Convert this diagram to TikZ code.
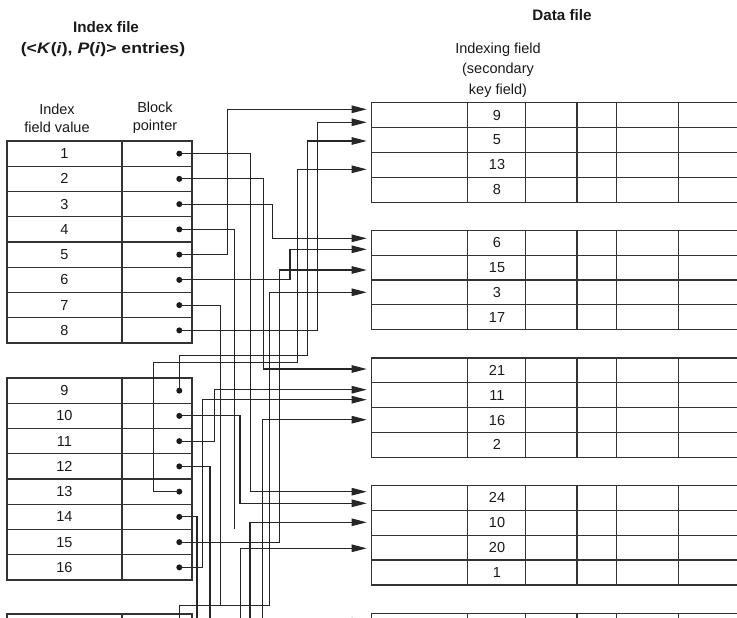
\documentclass[tikz,border=0pt]{standalone}
\usepackage{fontspec}
\setmainfont{Liberation Sans}
\usetikzlibrary{arrows.meta}

\begin{document}
\begin{tikzpicture}[x=1pt, y=-1pt,
  every node/.style={font=\fontsize{14.5}{17}\selectfont, text=black!90},
  head/.style={font=\fontsize{15.2}{18}\selectfont\bfseries},
  tab/.style={draw=black!80, line width=1.2pt},
  wire/.style={draw=black!85, line width=1.05pt},
  ptr/.style={wire, -{Triangle[length=15pt, width=7.5pt]}},
  dot/.style={circle, fill=black!90, inner sep=0pt, minimum size=6pt}]

\useasboundingbox (0,0) rectangle (737,618);

% Parameters
\def\rh{25.25}   % index row height
\def\dh{24.85}   % data row height
\def\px{179.3}   % x of the block pointers

% --- Titles ---
\node[head] (ititle) at (106,27) {Index file};
\node[head] (isub) at (103,50)
  {\scalebox{1.16}[1]{(<\textit{K}(\textit{i}), \textit{P}(\textit{i})> entries)}};
\node[head] (dtitle) at (562,15) {Data file};
\node[align=center, font=\fontsize{14.5}{20.5}\selectfont] (ifield) at (498,70)
  {Indexing field\\(secondary\\key field)};
\node[align=center, font=\fontsize{14.5}{18}\selectfont] (hval) at (57,118) {Index\\field value};
\node[align=center, font=\fontsize{14.5}{18}\selectfont] (hptr) at (155,118) {Block\\pointer};

% --- Index file: two full tables, the third cut off ---
\foreach \tb/\itop in {0/141, 1/378}{
  \draw[tab] (7,\itop) rectangle (192,\itop+8*\rh);
  \draw[tab] (122,\itop) -- (122,\itop+8*\rh);
  \foreach \r in {1,...,7}
    \draw[tab] (7,\itop+\r*\rh) -- (192,\itop+\r*\rh);
  \foreach \r in {1,...,8}{
    \pgfmathtruncatemacro\k{8*\tb+\r}
    \node (k\k) at (64.5,\itop+\r*\rh-0.5*\rh) {\k};
    \node[dot] (p\k) at (\px,\itop+\r*\rh-0.5*\rh) {};
  }
}
\draw[tab] (7,640) -- (7,614) -- (192,614) -- (192,640) (122,614) -- (122,640);
\coordinate (p17) at (\px,626.6);

% --- Data file blocks ---
\foreach \b/\vals in {1/{9,5,13,8}, 2/{6,15,3,17}, 3/{21,11,16,2}, 4/{24,10,20,1}}{
  \pgfmathsetmacro\btop{102.7+(\b-1)*127.6}
  \draw[tab] (745,\btop) -- (371.7,\btop) -- (371.7,\btop+4*\dh) -- (745,\btop+4*\dh);
  \foreach \r in {1,2,3}
    \draw[tab] (371.7,\btop+\r*\dh) -- (745,\btop+\r*\dh);
  \foreach \c in {467.7,525.7,577,616.7,678.3}
    \draw[tab] (\c,\btop) -- (\c,\btop+4*\dh);
  \foreach \v [count=\r] in \vals
    \node (d\b-\r) at (497,\btop+\r*\dh-0.5*\dh) {\v};
}
\draw[tab] (371.7,640) -- (371.7,613.3) -- (745,613.3);
\foreach \c in {467.7,525.7,577,616.7,678.3}
  \draw[tab] (\c,613.3) -- (\c,640);

% --- Arrow targets at the blocks' left edge ---
\foreach \n/\y in {1a/109.3, 1b/122.3, 1c/141, 1d/169.3,
                   2a/238.3, 2b/249.3, 2c/270, 2d/292.3,
                   3a/369, 3b/389.7, 3c/399.7, 3d/419.7,
                   4a/491.7, 4b/503.3, 4c/522.3, 4d/548.3, 5a/621.5}
  \coordinate (t\n) at (366.7,\y);

% --- Pointers: right, then up or down, then into a block ---
\foreach \k/\dx/\tg in {1/71.4/4a, 2/84/3a, 3/93/2a, 5/48.4/1a, 6/110.7/2b,
                        8/137.9/1b, 10/60.7/4b, 11/35/3b, 15/100/2c, 16/23/3c}
  \draw[ptr] (p\k.center) -- ++(\dx,0) |- (t\tg);

% pointers that jog before turning
\draw[ptr] (p9.center) |- ++(128.4,-35.6) |- (t1c);
\draw[ptr] (p13.center) -- ++(-26,0) |- ++(144.4,-128.9) |- (t1d);
\draw[ptr] (p17) |- ++(90,-20.9) |- (t2d);

% pointers into blocks below the picture
\foreach \k/\dx in {4/55, 7/41.4, 12/30.7, 14/17.7}
  \draw[wire] (p\k.center) -| ++(\dx,300);

% pointers from the third index table
\foreach \n/\x/\tg in {q21/262.3/3d, q20/250/4c, q24/240.7/4d}{
  \coordinate (\n) at (\x,640);
  \draw[ptr] (\n) |- (t\tg);
}
\coordinate (q5) at (330,621.5);
\draw[ptr] (q5) -- (t5a);

\end{tikzpicture}
\end{document}
